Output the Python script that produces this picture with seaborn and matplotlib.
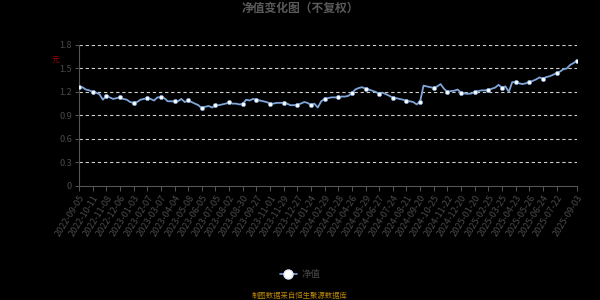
import matplotlib
matplotlib.use("Agg")
import matplotlib.pyplot as plt
from matplotlib.lines import Line2D
import seaborn as sns
import pandas as pd

# ---- data (one value per ~5 trading days) ----
tick_labels = [
    "2022-09-05", "2022-10-11", "2022-11-08", "2022-12-06", "2023-01-03",
    "2023-02-07", "2023-03-07", "2023-04-04", "2023-05-08", "2023-06-05",
    "2023-07-05", "2023-08-02", "2023-08-30", "2023-09-27", "2023-11-01",
    "2023-11-29", "2023-12-27", "2024-01-24", "2024-02-29", "2024-03-28",
    "2024-04-26", "2024-05-29", "2024-06-27", "2024-07-24", "2024-08-21",
    "2024-09-20", "2024-10-25", "2024-11-22", "2024-12-20", "2025-01-20",
    "2025-02-25", "2025-03-25", "2025-04-23", "2025-05-26", "2025-06-24",
    "2025-07-22", "2025-09-03",
]
tick_index = [0, 4, 8, 12, 16, 20, 24, 28, 32, 36, 40, 44, 48, 52, 56, 60,
              64, 68, 72, 76, 80, 84, 88, 92, 96, 100, 104, 108, 112, 116,
              120, 124, 128, 132, 136, 140, 146]

nav = [
    1.26, 1.26, 1.23, 1.22,
    1.20, 1.19, 1.17, 1.10,
    1.15, 1.13, 1.11, 1.12,
    1.13, 1.11, 1.10, 1.07,
    1.06, 1.07, 1.10, 1.11,
    1.12, 1.11, 1.09, 1.13,
    1.13, 1.12, 1.08, 1.08,
    1.08, 1.08, 1.11, 1.07,
    1.09, 1.07, 1.05, 1.03,
    0.99, 1.01, 1.02, 1.00,
    1.03, 1.03, 1.04, 1.05,
    1.065, 1.05, 1.05, 1.04,
    1.045, 1.10, 1.09, 1.11,
    1.10, 1.09, 1.08, 1.07,
    1.05, 1.05, 1.06, 1.06,
    1.06, 1.05, 1.03, 1.03,
    1.035, 1.05, 1.07, 1.06,
    1.03, 1.05, 1.00, 1.08,
    1.11, 1.12, 1.13, 1.13,
    1.13, 1.14, 1.14, 1.15,
    1.185, 1.23, 1.25, 1.26,
    1.24, 1.23, 1.215, 1.20,
    1.175, 1.19, 1.17, 1.15,
    1.125, 1.12, 1.11, 1.10,
    1.085, 1.08, 1.07, 1.04,
    1.077, 1.28, 1.27, 1.26,
    1.25, 1.27, 1.30, 1.24,
    1.20, 1.21, 1.215, 1.23,
    1.19, 1.18, 1.175, 1.18,
    1.20, 1.21, 1.22, 1.22,
    1.225, 1.24, 1.255, 1.29,
    1.255, 1.27, 1.20, 1.325,
    1.325, 1.31, 1.30, 1.31,
    1.325, 1.34, 1.36, 1.385,
    1.37, 1.39, 1.40, 1.42,
    1.44, 1.46, 1.49, 1.50,
    1.545, 1.57, 1.60,
]
y_ticks = [0, 0.3, 0.6, 0.9, 1.2, 1.5, 1.8]
y_tick_labels = ["0", "0.3", "0.6", "0.9", "1.2", "1.5", "1.8"]

title = "净值变化图（不复权）"
series_name = "净值"
unit = "元"
footer = "制图数据来自恒生聚源数据库"

# ---- styling ----
sns.set_theme(style="dark")
plt.rcParams["font.family"] = ["Noto Sans CJK SC", "DejaVu Sans"]
plt.rcParams["axes.unicode_minus"] = False

BG = "#000000"
LINE = "#7fa6d9"
TXT = "#4a4a4a"

df = pd.DataFrame({"idx": list(range(len(nav))), "nav": nav})
mk = df[df["idx"].isin(tick_index)]

fig = plt.figure(figsize=(6, 3), dpi=100, facecolor=BG)
ax = fig.add_axes([0.1317, 0.381, 0.83, 0.469])
ax.set_facecolor(BG)

sns.lineplot(data=df, x="idx", y="nav", ax=ax, color=LINE, linewidth=1.3,
             legend=False)
sns.scatterplot(data=mk, x="idx", y="nav", ax=ax, color="white", s=9,
                edgecolor=LINE, linewidth=0.5, legend=False, zorder=5)

ax.set_xlim(0, len(nav) - 1)
ax.set_ylim(0, 1.8)
ax.set_xticks(tick_index)
ax.set_xticklabels(tick_labels, rotation=58, ha="right",
                   rotation_mode="anchor", fontsize=6.6, color=TXT)
ax.set_yticks(y_ticks)
ax.set_yticklabels(y_tick_labels, fontsize=6.6, color=TXT)
ax.set_xlabel("")
ax.set_ylabel("")

ax.grid(False)
for yv in y_ticks[1:]:
    ax.axhline(yv, color="#cfcfcf", linewidth=0.8, linestyle=(0, (3, 2.5)),
               zorder=1)

for side in ["top", "right"]:
    ax.spines[side].set_visible(False)
ax.spines["left"].set_color("#555555")
ax.spines["left"].set_linewidth(0.8)
ax.spines["bottom"].set_color("#555555")
ax.spines["bottom"].set_linewidth(0.8)
ax.tick_params(axis="x", length=3.5, width=0.7, color="#555555", pad=2,
               bottom=True)
ax.tick_params(axis="y", length=3, width=0.7, color="#555555", pad=2,
               left=True)

fig.text(0.5, 0.972, title, ha="center", va="center", fontsize=8.5,
         color="#5a5a5a", fontweight="bold")
fig.text(0.092, 0.797, unit, ha="center", va="center", fontsize=5.5,
         color="#9b0000")

handle = Line2D([0], [0], color=LINE, linewidth=1.2, marker="o",
                markersize=6.5, markerfacecolor="white",
                markeredgecolor="#dfe9f7")
leg = fig.legend([handle], [series_name], loc="center",
                 bbox_to_anchor=(0.5, 0.917 - 0.0), frameon=False,
                 fontsize=6.8, handlelength=1.8, handletextpad=0.5)
leg.set_bbox_to_anchor((0.5, 0.085), transform=fig.transFigure)
for t in leg.get_texts():
    t.set_color("#4a4a4a")

fig.text(0.5, 0.013, footer, ha="center", va="center", fontsize=5.3,
         color="#b8860b")

fig.savefig("out.png", dpi=100, facecolor=BG)
